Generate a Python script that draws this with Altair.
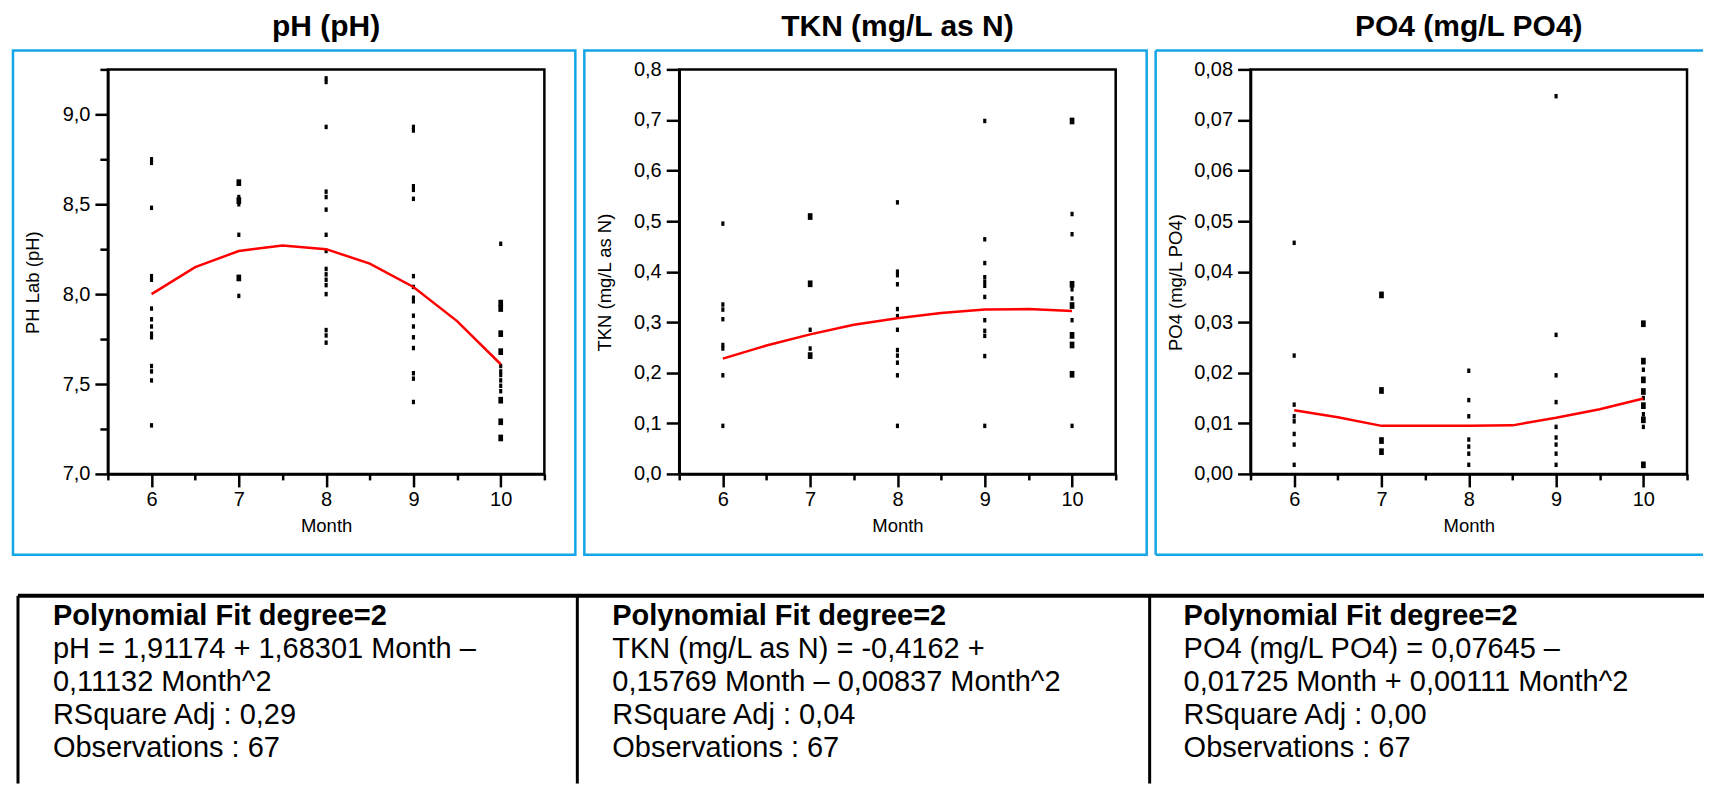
import altair as alt
import pandas as pd

FONT = "Liberation Sans"
BLUE = "#14a5e6"

months = [6, 7, 8, 9, 10]
fit_months = [6, 6.5, 7, 7.5, 8, 8.5, 9, 9.5, 10]

# ---- pH observations by month ----
ph_6 = [8.75, 8.73, 8.48, 8.10, 8.08, 7.92, 7.86, 7.82, 7.78, 7.76, 7.60, 7.57, 7.52, 7.27]
ph_7 = [8.62, 8.62, 8.54, 8.52, 8.52, 8.50, 8.33, 8.09, 8.09, 7.99]
ph_8 = [9.20, 9.18, 8.93, 8.57, 8.54, 8.47, 8.33, 8.24, 8.14, 8.11, 8.08, 8.05, 8.00, 7.80, 7.77, 7.73]
ph_9 = [8.93, 8.91, 8.60, 8.58, 8.53, 8.10, 8.04, 7.98, 7.96, 7.88, 7.82, 7.76, 7.70, 7.56, 7.53, 7.40]
ph_10 = [8.28, 7.95, 7.95, 7.92, 7.92, 7.78, 7.78, 7.68, 7.68, 7.60, 7.57, 7.55, 7.52,
         7.49, 7.46, 7.41, 7.41, 7.29, 7.29, 7.20, 7.20]
ph_fit = [8.00, 8.15, 8.24, 8.27, 8.25, 8.17, 8.04, 7.85, 7.61]

# ---- TKN observations by month ----
tkn_6 = [0.495, 0.335, 0.325, 0.306, 0.255, 0.248, 0.195, 0.095]
tkn_7 = [0.509, 0.509, 0.376, 0.376, 0.285, 0.248, 0.234, 0.234]
tkn_8 = [0.537, 0.400, 0.393, 0.375, 0.326, 0.312, 0.285, 0.245, 0.234, 0.220, 0.195, 0.095]
tkn_9 = [0.698, 0.464, 0.417, 0.389, 0.380, 0.372, 0.350, 0.304, 0.283, 0.273, 0.233, 0.095]
tkn_10 = [0.698, 0.698, 0.514, 0.474, 0.375, 0.375, 0.365, 0.347, 0.333, 0.333, 0.304,
          0.274, 0.274, 0.255, 0.255, 0.197, 0.197, 0.095]
tkn_fit = [0.228, 0.254, 0.276, 0.295, 0.308, 0.318, 0.325, 0.326, 0.322]

# ---- PO4 observations by month ----
po4_6 = [0.0457, 0.0234, 0.0137, 0.0114, 0.0104, 0.0079, 0.0058, 0.0018]
po4_7 = [0.0354, 0.0354, 0.0165, 0.0165, 0.0066, 0.0066, 0.0044, 0.0044]
po4_8 = [0.0204, 0.0146, 0.0114, 0.0068, 0.0054, 0.0040, 0.0018]
po4_9 = [0.0747, 0.0275, 0.0195, 0.0142, 0.0093, 0.0072, 0.0058, 0.0040, 0.0018]
po4_10 = [0.0297, 0.0297, 0.0223, 0.0223, 0.0206, 0.0186, 0.0186, 0.0163, 0.0163, 0.0150,
          0.0135, 0.0135, 0.0118, 0.0107, 0.0107, 0.0093, 0.0018, 0.0018]
po4_fit = [0.0126, 0.0112, 0.0095, 0.0095, 0.0095, 0.0096, 0.0111, 0.0128, 0.0149]

# ---- axis tick values ----
x_ticks = [5.5, 6, 6.5, 7, 7.5, 8, 8.5, 9, 9.5, 10, 10.5]
ph_ticks = [7.0, 7.25, 7.5, 7.75, 8.0, 8.25, 8.5, 8.75, 9.0, 9.25]
tkn_ticks = [0.0, 0.1, 0.2, 0.3, 0.4, 0.5, 0.6, 0.7, 0.8]
po4_ticks = [0.0, 0.01, 0.02, 0.03, 0.04, 0.05, 0.06, 0.07, 0.08]

# ---- texts ----
titles = ["pH (pH)", "TKN (mg/L as N)", "PO4 (mg/L PO4)"]
y_titles = ["PH Lab (pH)", "TKN (mg/L as N)", "PO4 (mg/L PO4)"]
fit_header = "Polynomial Fit degree=2"
ph_lines = ["pH = 1,91174 + 1,68301 Month \u2013", "0,11132 Month^2",
            "RSquare Adj : 0,29", "Observations : 67"]
tkn_lines = ["TKN (mg/L as N) = -0,4162 +", "0,15769 Month \u2013 0,00837 Month^2",
             "RSquare Adj : 0,04", "Observations : 67"]
po4_lines = ["PO4 (mg/L PO4) = 0,07645 \u2013", "0,01725 Month + 0,00111 Month^2",
             "RSquare Adj : 0,00", "Observations : 67"]

W, H = 437, 405
one = pd.DataFrame({"k": [0]})
SHAPE = "M-0.7,-1H0.7V1H-0.7Z"
ROW_Y = [547, 580, 613, 646, 679]


def rule(x, y, x2=None, y2=None, color="black", width=2.5):
    enc = {"x": alt.value(x), "y": alt.value(y)}
    if x2 is not None:
        enc["x2"] = alt.value(x2)
    if y2 is not None:
        enc["y2"] = alt.value(y2)
    return alt.Chart(one).mark_rule(color=color, strokeWidth=width).encode(**enc)


def text(t, x, y, size, bold=False, align="left"):
    return alt.Chart(one).mark_text(
        text=t, font=FONT, fontSize=size, fontWeight="bold" if bold else "normal",
        color="black", align=align, baseline="middle"
    ).encode(x=alt.value(x), y=alt.value(y))


def panel(idx, obs, fit, ydom, yticks, ylabel_expr, ytick_size, table_lines, text_x, full_box):
    df = pd.DataFrame([{"Month": m, "value": v} for m, lst in zip(months, obs) for v in lst])
    fdf = pd.DataFrame({"Month": fit_months, "value": fit})

    xaxis = alt.Axis(
        values=x_ticks,
        labelExpr="datum.value % 1 === 0 ? format(datum.value, 'd') : ''",
        tickSize={"condition": {"test": "datum.value % 1 === 0", "value": 13}, "value": 6},
        tickWidth=2.5, tickColor="black", domainColor="black", domainWidth=2.5,
        labelFont=FONT, labelFontSize=20, labelColor="black", labelPadding=3, labelFlush=False,
        title="Month", titleFont=FONT, titleFontSize=18.5, titleFontWeight="normal",
        titleColor="black", titlePadding=7, grid=False,
    )
    yaxis = alt.Axis(
        values=yticks, labelExpr=ylabel_expr, tickSize=ytick_size,
        tickWidth=2.5, tickColor="black", domainColor="black", domainWidth=2.5,
        labelFont=FONT, labelFontSize=20, labelColor="black", labelPadding=5, labelFlush=False,
        title=y_titles[idx], titleFont=FONT, titleFontSize=18.5, titleFontWeight="normal",
        titleColor="black", titleX=-75, titleY=213, titleAngle=-90,
        titleBaseline="middle", titleAlign="center", grid=False,
    )
    x = alt.X("Month:Q", scale=alt.Scale(domain=[5.5, 10.5], nice=False, zero=False), axis=xaxis)
    y = alt.Y("value:Q", scale=alt.Scale(domain=ydom, nice=False, zero=False), axis=yaxis)

    pts = alt.Chart(df).transform_aggregate(
        n="count()", groupby=["Month", "value"]
    ).mark_point(shape=SHAPE, filled=True, color="black", opacity=1, strokeWidth=0).encode(
        x=x, y=y,
        size=alt.Size("n:Q", scale=alt.Scale(domain=[1, 3], range=[20, 70]), legend=None),
    )
    line = alt.Chart(fdf).mark_line(color="#ff0000", strokeWidth=2.5).encode(
        x="Month:Q", y="value:Q"
    )

    layers = [pts, line]
    # panel title
    layers.append(text(titles[idx], W / 2, -42, 30, bold=True, align="center"))
    # blue box
    if full_box:
        layers.append(
            alt.Chart(one).mark_rect(fillOpacity=0, stroke=BLUE, strokeWidth=2.5).encode(
                x=alt.value(-95), x2=alt.value(468), y=alt.value(-19), y2=alt.value(486)
            )
        )
    else:
        layers += [
            rule(-95, -19, y2=486, color=BLUE),
            rule(-95, -19, x2=453, color=BLUE),
            rule(-95, 486, x2=453, color=BLUE),
        ]
    # fit summary text
    layers.append(text(fit_header, text_x, ROW_Y[0], 29, bold=True))
    for i, t in enumerate(table_lines):
        layers.append(text(t, text_x, ROW_Y[i + 1], 29))
    return alt.layer(*layers).properties(width=W, height=H)


ph_expr = "datum.value % 0.5 === 0 ? replace(format(datum.value, '.1f'), '.', ',') : ''"
ph_tick = {"condition": {"test": "datum.value % 0.5 === 0", "value": 13}, "value": 8}
tkn_expr = "replace(format(datum.value, '.1f'), '.', ',')"
po4_expr = "replace(format(datum.value, '.2f'), '.', ',')"

p1 = panel(0, [ph_6, ph_7, ph_8, ph_9, ph_10], ph_fit, [7.0, 9.25], ph_ticks, ph_expr, ph_tick,
           ph_lines, -55, True)
p2 = panel(1, [tkn_6, tkn_7, tkn_8, tkn_9, tkn_10], tkn_fit, [0.0, 0.8], tkn_ticks, tkn_expr, 13,
           tkn_lines, -67, True)
p3 = panel(2, [po4_6, po4_7, po4_8, po4_9, po4_10], po4_fit, [0.0, 0.08], po4_ticks, po4_expr, 13,
           po4_lines, -67, False)

# table frame + anchor drawn in first panel's coordinate space
anchor = alt.Chart(one).mark_rect(fill="white", strokeWidth=0).encode(
    x=alt.value(-98), x2=alt.value(-96), y=alt.value(-59), y2=alt.value(-57)
)
table_frame = [
    rule(-90, 527, x2=1598, width=4),
    rule(-90, 527, y2=715, width=3),
    rule(470, 527, y2=715, width=3),
    rule(1043, 527, y2=715, width=3),
]
p1 = alt.layer(p1, anchor, *table_frame)

chart = alt.hconcat(p1, p2, p3, spacing=135, bounds="flush").properties(
    padding=0, background="white"
).configure_view(stroke="black", strokeWidth=2.5)

chart.save("out.html", embed_options={"renderer": "svg", "actions": False})
